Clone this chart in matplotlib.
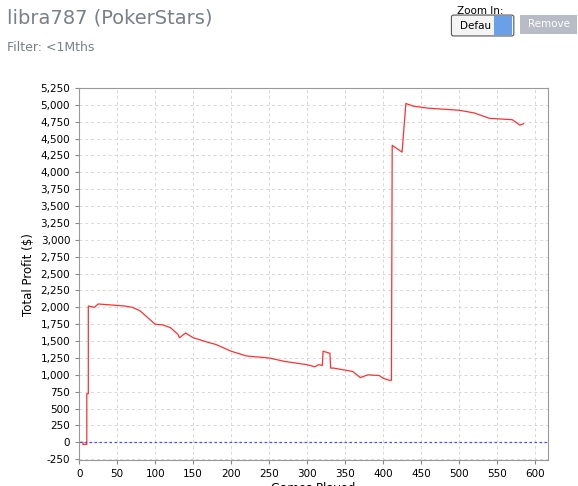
import matplotlib
matplotlib.use("Agg")
import matplotlib.pyplot as plt
from matplotlib.patches import FancyBboxPatch, Rectangle

games = [0,5,5,9,10,10,12,12,20,25,60,70,80,90,100,110,120,130,132,140,150,170,180,200,220,250,270,300,310,315,320,321,330,331,335,360,370,380,395,400,408,411,412,425,430,440,460,500,520,540,570,580,585]
profit = [0,0,-30,-30,-30,720,720,2020,2000,2050,2020,2000,1950,1850,1750,1740,1700,1600,1550,1620,1550,1480,1450,1350,1280,1250,1200,1150,1120,1150,1140,1350,1320,1100,1100,1050,960,1000,990,950,920,920,4400,4300,5020,4980,4950,4920,4880,4800,4780,4700,4720]
yticks = list(range(-250, 5251, 250))
xticks = list(range(0, 601, 50))

fig = plt.figure(figsize=(5.78, 4.86), dpi=100)
ax = fig.add_axes([0.137, 0.053, 0.811, 0.766])
ax.plot(games, profit, color="#ff3030", lw=0.9)
ax.axhline(0, color="#4a4aff", lw=0.9, ls=(0, (2, 2)))
ax.set_xlim(0, 617)
ax.set_ylim(-265, 5250)
ax.set_xticks(xticks)
ax.set_yticks(yticks)
ax.set_yticklabels([f"{v:,}" for v in yticks])
ax.tick_params(labelsize=7.5, length=3, color="#888888")
ax.grid(True, color="#d8d8d8", ls=(0, (3, 3)), lw=0.7)
for s in ax.spines.values():
    s.set_color("#999999")
ax.set_ylabel("Total Profit ($)", fontsize=8.5)
ax.set_xlabel("Games Played", fontsize=8.5, labelpad=2)

fig.text(0.012, 0.962, "libra787 (PokerStars)", fontsize=14, color="#7a7f88", va="center")
fig.text(0.012, 0.902, "Filter: <1Mths", fontsize=9, color="#7a7f88", va="center")
fig.text(0.79, 0.978, "Zoom In:", fontsize=7.5, va="center")
fig.patches.append(FancyBboxPatch((0.785, 0.93), 0.1, 0.035, boxstyle="round,pad=0.004",
                                  transform=fig.transFigure, fc="#f4f4f4", ec="#555555", lw=0.8))
fig.patches.append(Rectangle((0.855, 0.928), 0.03, 0.039, transform=fig.transFigure, fc="#6aa0e8", ec="none"))
fig.text(0.795, 0.947, "Defau", fontsize=7.5, va="center")
fig.patches.append(Rectangle((0.9, 0.93), 0.098, 0.04, transform=fig.transFigure, fc="#b7bcc6", ec="none"))
fig.text(0.949, 0.95, "Remove", fontsize=7.5, color="white", va="center", ha="center")
fig.savefig("out.png", dpi=100)
